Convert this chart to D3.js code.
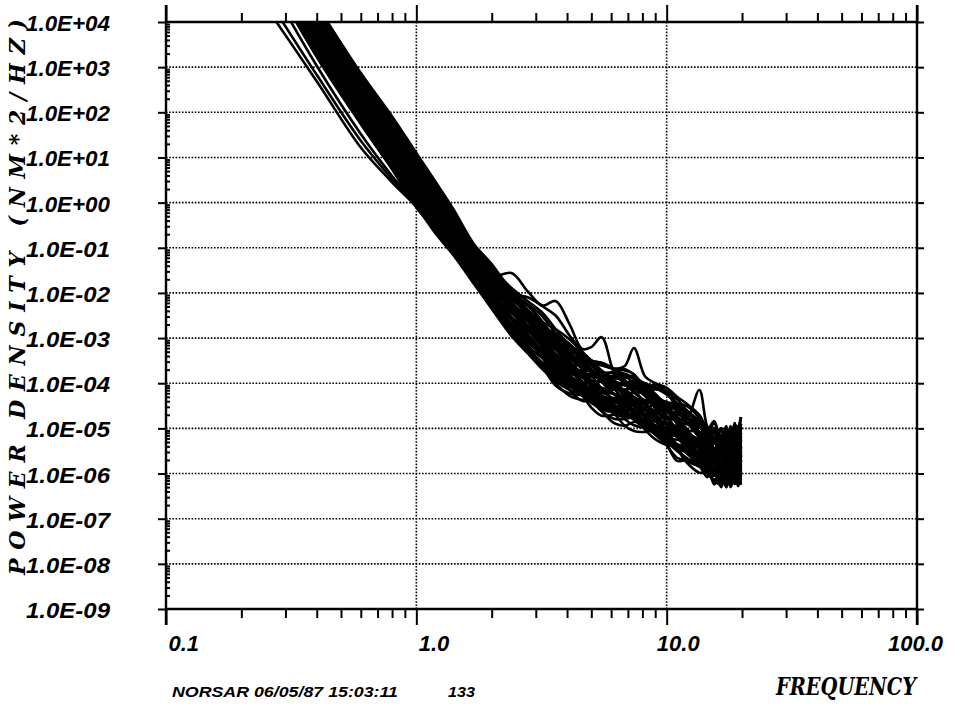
<!DOCTYPE html>
<html><head><meta charset="utf-8">
<script src="https://cdn.jsdelivr.net/npm/d3@7"></script>
<style>body{margin:0;background:#fff}svg{display:block}</style>
</head><body>
<script>
// ---------------- DATA ----------------
// frequency grid (Hz) shared by all traces
const freq = [0.25,0.4,0.6,0.8,1.0,1.2,1.4,1.7,2.0,2.4,2.8,3.2,3.6,4.1,4.6,5.0,5.5,6.2,6.8,7.4,8.2,9.0,10,11,12,13.5,14.5,15.5,16.5,17.3,18,18.7,19.3,19.8];
// each trace: log10 of power density (NM^2/HZ) at the frequencies above
const trace01 = [5.20,3.23,1.74,0.74,-0.10,-0.62,-1.10,-1.75,-2.30,-2.89,-3.29,-3.65,-3.90,-4.08,-4.22,-4.39,-4.62,-4.79,-4.79,-4.76,-4.93,-5.14,-5.37,-5.72,-5.70,-5.73,-5.98,-6.14,-5.94,-6.30,-5.90,-6.23,-5.85,-6.10];
const trace02 = [5.25,3.29,1.80,0.80,-0.04,-0.57,-1.05,-1.71,-2.25,-2.74,-3.04,-3.30,-3.65,-4.03,-4.27,-4.34,-4.37,-4.39,-4.59,-4.81,-4.98,-4.99,-5.02,-5.20,-5.45,-5.78,-5.88,-5.69,-6.14,-5.80,-6.20,-5.73,-6.05,-5.60];
const trace03 = [5.29,3.34,1.85,0.86,0.02,-0.51,-1.00,-1.67,-2.21,-2.94,-3.29,-3.65,-4.00,-4.28,-4.37,-4.39,-4.47,-4.69,-4.94,-5.06,-5.08,-5.04,-5.17,-5.45,-5.75,-5.98,-5.98,-6.15,-6.25,-6.00,-6.30,-6.05,-6.28,-6.10];
const trace04 = [5.34,3.40,1.91,0.92,0.08,-0.46,-0.95,-1.63,-2.16,-2.59,-2.84,-3.20,-3.60,-3.78,-3.87,-4.09,-4.37,-4.44,-4.39,-4.41,-4.68,-4.94,-5.02,-5.05,-5.15,-5.48,-5.78,-5.59,-5.94,-5.70,-6.00,-5.53,-5.85,-5.50];
const trace05 = [5.38,3.46,1.97,0.97,0.14,-0.41,-0.91,-1.58,-2.11,-2.79,-3.04,-3.40,-3.80,-3.98,-4.07,-4.29,-4.57,-4.64,-4.59,-4.61,-4.88,-5.04,-5.27,-5.40,-5.45,-5.63,-5.88,-6.04,-5.84,-6.20,-5.80,-6.13,-5.75,-6.00];
const trace06 = [5.43,3.52,2.02,1.03,0.20,-0.36,-0.86,-1.54,-2.07,-2.44,-2.84,-3.20,-3.45,-3.63,-3.77,-3.94,-4.17,-4.34,-4.34,-4.31,-4.48,-4.69,-4.92,-5.05,-5.10,-5.28,-5.53,-5.69,-5.49,-5.85,-5.45,-5.78,-5.40,-5.65];
const trace07 = [5.47,3.57,2.08,1.09,0.26,-0.30,-0.81,-1.50,-2.02,-2.69,-2.94,-3.30,-3.70,-3.88,-3.97,-4.19,-4.47,-4.54,-4.49,-4.51,-4.78,-5.04,-5.12,-5.15,-5.25,-5.58,-5.88,-5.69,-6.04,-5.80,-6.10,-5.63,-5.95,-5.60];
const trace08 = [5.52,3.63,2.14,1.15,0.32,-0.25,-0.76,-1.46,-1.97,-2.29,-2.64,-3.00,-3.35,-3.63,-3.72,-3.74,-3.82,-4.04,-4.29,-4.41,-4.43,-4.39,-4.52,-4.80,-5.10,-5.33,-5.33,-5.69,-5.39,-5.80,-5.45,-5.68,-5.35,-5.50];
const trace09 = [5.56,3.69,2.19,1.21,0.38,-0.20,-0.71,-1.42,-1.92,-2.54,-2.94,-3.30,-3.55,-3.73,-3.87,-4.04,-4.27,-4.44,-4.44,-4.41,-4.58,-4.79,-5.02,-5.15,-5.20,-5.38,-5.63,-5.79,-5.59,-5.95,-5.55,-5.88,-5.50,-5.75];
const trace10 = [5.61,3.74,2.25,1.27,0.44,-0.14,-0.66,-1.38,-1.88,-2.14,-2.44,-2.70,-3.05,-3.43,-3.67,-3.74,-3.77,-3.79,-3.99,-4.21,-4.38,-4.39,-4.42,-4.60,-4.85,-5.18,-5.28,-5.09,-5.54,-5.20,-5.60,-5.13,-5.45,-5.00];
const trace11 = [5.65,3.80,2.31,1.33,0.50,-0.09,-0.62,-1.34,-1.83,-2.39,-2.74,-3.10,-3.45,-3.73,-3.82,-3.84,-3.92,-4.14,-4.39,-4.51,-4.53,-4.49,-4.62,-4.90,-5.20,-5.43,-5.43,-5.79,-5.49,-5.90,-5.55,-5.78,-5.45,-5.60];
const trace12 = [5.70,3.86,2.36,1.38,0.56,-0.04,-0.57,-1.29,-1.78,-2.04,-2.29,-2.65,-3.05,-3.23,-3.32,-3.54,-3.82,-3.89,-3.84,-3.86,-4.13,-4.39,-4.47,-4.50,-4.60,-4.93,-5.23,-5.04,-5.39,-5.15,-5.45,-4.98,-5.30,-4.95];
const trace13 = [5.74,3.91,2.42,1.44,0.62,0.02,-0.52,-1.25,-1.74,-2.40,-2.85,-3.15,-3.50,-3.88,-4.12,-4.19,-4.22,-4.24,-4.44,-4.66,-4.83,-4.84,-4.87,-5.05,-5.30,-5.63,-5.73,-5.54,-5.99,-5.65,-6.05,-5.58,-5.90,-5.45];
const trace14 = [5.79,3.97,2.47,1.50,0.68,0.07,-0.47,-1.21,-1.69,-2.24,-2.64,-3.00,-3.25,-3.43,-3.57,-3.74,-3.97,-4.14,-4.14,-4.11,-4.28,-4.49,-4.72,-4.85,-4.90,-5.08,-5.33,-5.49,-5.29,-5.65,-5.25,-5.58,-5.20,-5.45];
const trace15 = [5.83,4.03,2.53,1.56,0.74,0.12,-0.42,-1.17,-1.64,-1.94,-2.29,-2.65,-3.00,-3.28,-3.37,-3.50,-3.55,-3.69,-3.94,-4.06,-4.08,-4.04,-4.17,-4.45,-4.75,-4.98,-4.98,-5.34,-5.04,-5.45,-5.10,-5.33,-5.00,-5.15];
const trace16 = [5.88,4.09,2.59,1.62,0.80,0.18,-0.37,-1.13,-1.60,-2.34,-2.64,-2.90,-3.25,-3.63,-3.87,-3.94,-3.97,-3.99,-4.19,-4.41,-4.58,-4.59,-4.62,-4.80,-5.05,-5.38,-5.48,-5.29,-5.74,-5.40,-5.80,-5.33,-5.65,-5.20];
const trace17 = [5.92,4.14,2.64,1.68,0.86,0.23,-0.32,-1.09,-1.55,-2.09,-2.49,-2.85,-3.10,-3.28,-3.42,-3.59,-3.82,-3.99,-3.99,-3.96,-4.13,-4.34,-4.57,-4.70,-4.75,-4.93,-5.18,-5.34,-5.14,-5.50,-5.10,-5.43,-5.05,-5.30];
const trace18 = [5.97,4.20,2.70,1.73,0.92,0.28,-0.28,-1.04,-1.50,-2.25,-2.65,-3.10,-3.50,-3.68,-3.77,-3.99,-4.27,-4.34,-4.29,-4.31,-4.58,-4.84,-4.92,-4.95,-5.05,-5.38,-5.68,-5.49,-5.84,-5.60,-5.90,-5.43,-5.75,-5.40];
const trace19 = [6.01,4.26,2.76,1.79,0.98,0.33,-0.23,-1.00,-1.46,-1.89,-2.19,-2.45,-2.80,-3.18,-3.42,-3.55,-3.60,-3.68,-3.72,-3.80,-4.13,-4.14,-4.17,-4.35,-4.60,-4.93,-5.03,-4.84,-5.29,-4.95,-5.35,-4.88,-5.20,-4.75];
const trace20 = [6.06,4.31,2.81,1.85,1.04,0.39,-0.18,-0.96,-1.41,-2.00,-2.44,-2.80,-3.20,-3.38,-3.47,-3.69,-3.97,-4.04,-3.99,-4.01,-4.28,-4.54,-4.62,-4.65,-4.75,-5.08,-5.38,-5.19,-5.54,-5.30,-5.60,-5.13,-5.45,-5.10];
const trace21 = [6.10,4.37,2.87,1.91,1.10,0.44,-0.13,-0.92,-1.36,-1.99,-2.39,-2.75,-3.00,-3.18,-3.32,-3.49,-3.72,-3.89,-3.89,-3.86,-4.03,-4.24,-4.47,-4.60,-4.65,-4.83,-5.08,-5.24,-5.04,-5.40,-5.00,-5.33,-4.95,-5.20];
const trace22 = [6.08,4.35,2.85,1.88,1.07,0.41,-0.16,-1.00,-1.62,-1.56,-1.98,-2.28,-2.18,-2.70,-3.24,-3.20,-2.98,-3.80,-4.00,-4.10,-4.20,-4.35,-4.50,-4.75,-4.85,-5.20,-5.40,-5.30,-5.60,-5.30,-5.70,-5.40,-5.65,-5.40];
const trace23 = [5.90,4.12,2.62,1.66,0.84,0.21,-0.34,-1.10,-1.58,-2.05,-2.45,-2.80,-3.10,-3.35,-3.50,-3.55,-3.60,-3.68,-3.62,-3.22,-3.85,-4.00,-4.10,-4.30,-4.45,-4.70,-5.00,-5.10,-5.30,-5.05,-5.40,-5.10,-5.30,-4.90];
const trace24 = [5.78,3.96,2.46,1.49,0.67,0.06,-0.48,-1.22,-1.70,-2.20,-2.60,-2.95,-3.20,-3.45,-3.65,-3.75,-3.85,-3.95,-4.05,-4.10,-4.20,-4.30,-4.45,-4.60,-4.80,-4.15,-4.95,-5.20,-5.40,-5.10,-5.50,-5.20,-5.00,-4.75];
const trace25 = [6.00,4.25,2.75,1.78,0.97,0.32,-0.24,-1.02,-1.50,-2.00,-2.10,-2.30,-2.50,-2.95,-3.30,-3.50,-3.55,-3.70,-3.80,-3.90,-4.00,-4.10,-4.25,-4.45,-4.60,-4.90,-5.10,-5.20,-5.00,-5.35,-5.05,-5.30,-4.95,-5.20];
const trace26 = [4.35,2.69,1.22,0.45,-0.10,-0.70,-1.15,-1.80,-2.35,-2.95,-3.35,-3.70,-3.95,-4.15,-4.25,-4.35,-4.50,-4.60,-4.70,-4.80,-4.95,-5.10,-5.30,-5.50,-5.65,-5.85,-5.95,-6.05,-5.85,-6.15,-5.90,-6.20,-5.95,-6.15];
const trace27 = [4.59,2.83,1.37,0.52,-0.08,-0.66,-1.13,-1.78,-2.33,-2.90,-3.30,-3.60,-3.85,-4.05,-4.20,-4.30,-4.45,-4.55,-4.65,-4.75,-4.90,-5.00,-5.20,-5.40,-5.55,-5.80,-5.90,-6.00,-6.10,-5.85,-6.20,-5.95,-6.20,-5.90];
const trace28 = [5.00,3.03,1.52,0.59,-0.05,-0.60,-1.08,-1.74,-2.30,-2.85,-3.25,-3.55,-3.80,-4.00,-4.15,-4.30,-4.40,-4.50,-4.62,-4.72,-4.85,-4.95,-5.15,-5.35,-5.50,-5.75,-5.85,-5.95,-5.70,-6.05,-5.80,-6.10,-5.75,-6.00];
const trace29 = [5.22,3.26,1.77,0.77,-0.07,-0.59,-1.08,-1.73,-2.28,-2.84,-3.11,-3.38,-3.75,-4.16,-4.39,-4.39,-4.40,-4.56,-4.79,-4.93,-4.98,-4.94,-5.07,-5.40,-5.70,-5.83,-5.81,-6.19,-5.84,-6.15,-5.80,-6.23,-5.85,-6.15];
const trace30 = [5.40,3.49,2.00,1.00,0.17,-0.38,-0.88,-1.56,-2.09,-2.77,-3.20,-3.43,-3.63,-3.89,-4.20,-4.44,-4.55,-4.52,-4.52,-4.69,-4.96,-5.12,-5.15,-5.18,-5.38,-5.81,-6.06,-5.67,-6.12,-5.78,-6.08,-5.66,-6.18,-5.78];
const trace31 = [5.31,3.37,1.88,0.89,0.05,-0.49,-0.98,-1.65,-2.18,-2.69,-3.12,-3.35,-3.55,-3.81,-4.12,-4.36,-4.47,-4.44,-4.44,-4.61,-4.88,-5.04,-5.07,-5.10,-5.30,-5.73,-5.98,-5.59,-6.04,-5.70,-6.00,-5.58,-6.10,-5.70];
const trace32 = [5.58,3.71,2.22,1.24,0.41,-0.17,-0.69,-1.40,-1.90,-2.59,-3.02,-3.25,-3.45,-3.71,-4.02,-4.26,-4.37,-4.34,-4.34,-4.51,-4.78,-4.94,-4.97,-5.00,-5.20,-5.63,-5.88,-5.49,-5.94,-5.60,-5.90,-5.48,-6.00,-5.60];
const trace33 = [5.49,3.60,2.11,1.12,0.29,-0.28,-0.78,-1.48,-1.99,-2.54,-2.81,-3.08,-3.45,-3.86,-4.09,-4.09,-4.10,-4.26,-4.49,-4.63,-4.68,-4.64,-4.77,-5.10,-5.40,-5.53,-5.51,-5.89,-5.54,-5.85,-5.50,-5.93,-5.55,-5.85];
const trace34 = [5.76,3.94,2.45,1.47,0.65,0.04,-0.49,-1.23,-1.71,-2.39,-2.82,-3.05,-3.25,-3.51,-3.82,-4.06,-4.17,-4.14,-4.14,-4.31,-4.58,-4.74,-4.77,-4.80,-5.00,-5.43,-5.68,-5.29,-5.74,-5.40,-5.70,-5.28,-5.80,-5.40];
const trace35 = [5.67,3.83,2.33,1.35,0.53,-0.06,-0.59,-1.31,-1.81,-2.31,-2.58,-2.85,-3.22,-3.63,-3.86,-3.86,-3.87,-4.03,-4.26,-4.40,-4.45,-4.41,-4.54,-4.87,-5.17,-5.30,-5.28,-5.66,-5.31,-5.62,-5.27,-5.70,-5.32,-5.62];
const trace36 = [5.94,4.17,2.67,1.71,0.89,0.25,-0.30,-1.07,-1.52,-2.24,-2.51,-2.78,-3.15,-3.56,-3.79,-3.79,-3.80,-3.96,-4.19,-4.33,-4.38,-4.34,-4.47,-4.80,-5.10,-5.23,-5.21,-5.59,-5.24,-5.55,-5.20,-5.63,-5.25,-5.55];
const trace37 = [5.85,4.06,2.56,1.59,0.77,0.15,-0.40,-1.15,-1.62,-2.09,-2.52,-2.75,-2.95,-3.21,-3.52,-3.76,-3.87,-3.84,-3.84,-4.01,-4.28,-4.44,-4.47,-4.50,-4.70,-5.13,-5.38,-4.99,-5.44,-5.10,-5.40,-4.98,-5.50,-5.10];
const trace38 = [6.03,4.28,2.79,1.82,1.01,0.36,-0.20,-0.98,-1.43,-1.99,-2.26,-2.53,-2.90,-3.31,-3.54,-3.54,-3.55,-3.71,-3.94,-4.08,-4.13,-4.09,-4.22,-4.55,-4.85,-4.98,-4.96,-5.34,-4.99,-5.30,-4.95,-5.38,-5.00,-5.30];
const trace39 = [5.27,3.32,1.82,0.83,-0.01,-0.54,-1.03,-1.69,-2.23,-2.89,-3.34,-3.60,-3.75,-3.98,-4.27,-4.54,-4.72,-4.69,-4.64,-4.76,-5.03,-5.24,-5.37,-5.40,-5.45,-5.73,-6.08,-5.84,-6.30,-6.00,-6.25,-5.83,-6.25,-5.85];
const trace40 = [5.36,3.43,1.94,0.94,0.11,-0.43,-0.93,-1.60,-2.14,-2.74,-3.04,-3.45,-3.85,-4.03,-4.07,-4.14,-4.42,-4.69,-4.74,-4.66,-4.68,-4.84,-5.17,-5.45,-5.50,-5.53,-5.63,-6.04,-5.79,-6.20,-5.80,-6.03,-5.70,-6.05];
const trace41 = [5.45,3.54,2.05,1.06,0.23,-0.33,-0.83,-1.52,-2.04,-2.59,-3.04,-3.30,-3.45,-3.68,-3.97,-4.24,-4.42,-4.39,-4.34,-4.46,-4.73,-4.94,-5.07,-5.10,-5.15,-5.43,-5.78,-5.54,-6.04,-5.70,-5.95,-5.53,-5.95,-5.55];
const trace42 = [5.54,3.66,2.16,1.18,0.35,-0.22,-0.74,-1.44,-1.95,-2.44,-2.74,-3.15,-3.55,-3.73,-3.77,-3.84,-4.12,-4.39,-4.44,-4.36,-4.38,-4.54,-4.87,-5.15,-5.20,-5.23,-5.33,-5.74,-5.49,-5.90,-5.50,-5.73,-5.40,-5.75];
const trace43 = [5.63,3.77,2.28,1.30,0.47,-0.12,-0.64,-1.36,-1.85,-2.29,-2.74,-3.00,-3.15,-3.38,-3.67,-3.94,-4.12,-4.09,-4.04,-4.16,-4.43,-4.64,-4.77,-4.80,-4.85,-5.13,-5.48,-5.24,-5.74,-5.40,-5.65,-5.23,-5.65,-5.25];
const trace44 = [5.72,3.89,2.39,1.41,0.59,-0.01,-0.54,-1.27,-1.76,-2.14,-2.44,-2.85,-3.25,-3.43,-3.47,-3.54,-3.82,-4.09,-4.14,-4.06,-4.08,-4.24,-4.57,-4.85,-4.90,-4.93,-5.03,-5.44,-5.19,-5.60,-5.20,-5.43,-5.10,-5.45];
const trace45 = [5.81,4.00,2.50,1.53,0.71,0.10,-0.45,-1.19,-1.67,-2.04,-2.49,-2.75,-2.90,-3.13,-3.42,-3.69,-3.87,-3.84,-3.79,-3.91,-4.18,-4.39,-4.52,-4.55,-4.60,-4.88,-5.23,-4.99,-5.49,-5.15,-5.40,-4.98,-5.40,-5.00];
const trace46 = [5.21,3.24,1.75,0.75,-0.09,-0.61,-1.09,-1.74,-2.29,-2.94,-3.24,-3.65,-4.05,-4.23,-4.27,-4.34,-4.62,-4.89,-4.94,-4.86,-4.88,-5.04,-5.37,-5.65,-5.70,-5.73,-5.83,-6.24,-5.99,-6.30,-6.00,-6.23,-5.90,-6.25];
const trace47 = [5.33,3.38,1.89,0.90,0.06,-0.48,-0.97,-1.64,-2.17,-2.74,-3.19,-3.45,-3.60,-3.83,-4.12,-4.39,-4.57,-4.54,-4.49,-4.61,-4.88,-5.09,-5.22,-5.25,-5.30,-5.58,-5.93,-5.69,-6.19,-5.85,-6.10,-5.68,-6.10,-5.70];
const trace48 = [5.90,4.11,2.62,1.65,0.83,0.20,-0.35,-1.11,-1.57,-2.29,-2.59,-3.00,-3.40,-3.58,-3.62,-3.69,-3.97,-4.24,-4.29,-4.21,-4.23,-4.39,-4.72,-5.00,-5.05,-5.08,-5.18,-5.59,-5.34,-5.75,-5.35,-5.58,-5.25,-5.60];
const trace49 = [6.08,4.34,2.84,1.88,1.07,0.41,-0.15,-0.94,-1.38,-1.94,-2.39,-2.65,-2.80,-3.03,-3.32,-3.59,-3.77,-3.74,-3.69,-3.81,-4.08,-4.29,-4.42,-4.45,-4.50,-4.78,-5.13,-4.89,-5.39,-5.05,-5.30,-4.88,-5.30,-4.90];
const trace50 = [5.99,4.23,2.73,1.76,0.95,0.31,-0.26,-1.02,-1.48,-2.20,-2.94,-3.35,-3.75,-3.93,-3.97,-4.04,-4.32,-4.59,-4.64,-4.56,-4.58,-4.74,-5.07,-5.35,-5.40,-5.43,-5.53,-5.94,-5.69,-6.10,-5.70,-5.93,-5.60,-5.95];

const traces = [trace01,trace02,trace03,trace04,trace05,trace06,trace07,trace08,trace09,trace10,
  trace11,trace12,trace13,trace14,trace15,trace16,trace17,trace18,trace19,trace20,
  trace21,trace22,trace23,trace24,trace25,trace26,trace27,trace28,trace29,trace30,
  trace31,trace32,trace33,trace34,trace35,trace36,trace37,trace38,trace39,trace40,
  trace41,trace42,trace43,trace44,trace45,trace46,trace47,trace48,trace49,trace50];

const yTickValues = [1e4,1e3,1e2,1e1,1e0,1e-1,1e-2,1e-3,1e-4,1e-5,1e-6,1e-7,1e-8,1e-9];
const yTickLabels = ["1.0E+04","1.0E+03","1.0E+02","1.0E+01","1.0E+00","1.0E-01","1.0E-02","1.0E-03","1.0E-04","1.0E-05","1.0E-06","1.0E-07","1.0E-08","1.0E-09"];
const xTickValues = [0.1,1,10,100];
const xTickLabels = ["0.1","1.0","10.0","100.0"];
const xTitle = "FREQUENCY";
const yTitle = "POWER  DENSITY  (NM*2/HZ)";
const footer = "NORSAR 06/05/87 15:03:11";
const footerId = "133";

// ---------------- CHART ----------------
const W = 958, H = 705;
const svg = d3.select("body").append("svg").attr("width", W).attr("height", H);
svg.append("rect").attr("width", W).attr("height", H).attr("fill", "#fff");

const L = 166, R = 917, T = 22, B = 609;
const x = d3.scaleLog().domain([0.1, 100]).range([L, R]);
const y = d3.scaleLog().domain([1e-9, 1e4]).range([B, T]);

const xMinor = [];
[0.1, 1, 10].forEach(d => { for (let k = 2; k <= 9; k++) xMinor.push(d * k); });
const yMinor = [];
yTickValues.slice(1).forEach(d => { for (let k = 2; k <= 9; k++) yMinor.push(d * k); });

const dotted = "1.6,1.6";
svg.append("g").selectAll("line").data(yTickValues.slice(1, -1)).join("line")
  .attr("x1", L).attr("x2", R).attr("y1", d => y(d)).attr("y2", d => y(d))
  .attr("stroke", "#000").attr("stroke-width", 1.6).attr("stroke-dasharray", dotted);
svg.append("g").selectAll("line").data([1, 10]).join("line")
  .attr("x1", d => x(d)).attr("x2", d => x(d)).attr("y1", T).attr("y2", B)
  .attr("stroke", "#000").attr("stroke-width", 1.6).attr("stroke-dasharray", dotted);

svg.append("clipPath").attr("id", "clip").append("rect")
  .attr("x", L).attr("y", T).attr("width", R - L).attr("height", B - T);
const line = d3.line()
  .x((d, i) => x(freq[i]))
  .y(d => y(Math.pow(10, d)))
  .curve(d3.curveCatmullRom.alpha(0.5));
svg.append("g").attr("clip-path", "url(#clip)").selectAll("path").data(traces).join("path")
  .attr("d", line).attr("fill", "none").attr("stroke", "#000")
  .attr("stroke-width", 2.6).attr("stroke-linejoin", "round");

function styleAxis(g) {
  g.select(".domain").remove();
  g.selectAll("text").remove();
  g.selectAll(".tick line").attr("stroke", "#000").attr("stroke-width", 2);
}
svg.append("g").attr("transform", `translate(0,${T})`)
  .call(d3.axisTop(x).tickValues(xMinor).tickSize(9).tickFormat("")).call(styleAxis);
svg.append("g").attr("transform", `translate(0,${B})`)
  .call(d3.axisBottom(x).tickValues(xMinor).tickSize(9).tickFormat("")).call(styleAxis);
svg.append("g").attr("transform", `translate(0,${T})`)
  .call(d3.axisTop(x).tickValues(xTickValues).tickSize(17).tickFormat("")).call(styleAxis);
svg.append("g").attr("transform", `translate(0,${B})`)
  .call(d3.axisBottom(x).tickValues(xTickValues).tickSize(16).tickFormat("")).call(styleAxis);
svg.append("g").attr("transform", `translate(${L},0)`)
  .call(d3.axisLeft(y).tickValues(yTickValues).tickSize(8).tickFormat("")).call(styleAxis);
svg.append("g").attr("transform", `translate(${L},0)`)
  .call(d3.axisRight(y).tickValues(yMinor).tickSize(4).tickFormat("")).call(styleAxis);
svg.append("g").attr("transform", `translate(${R},0)`)
  .call(d3.axisRight(y).tickValues(yTickValues).tickSize(7).tickFormat("")).call(styleAxis);

const frame = svg.append("g").attr("stroke", "#000").attr("stroke-width", 2.4);
frame.append("line").attr("x1", L).attr("x2", R).attr("y1", T).attr("y2", T);
frame.append("line").attr("x1", L).attr("x2", R).attr("y1", B).attr("y2", B);
frame.append("line").attr("x1", L).attr("x2", L).attr("y1", 5).attr("y2", 625);
frame.append("line").attr("x1", R).attr("x2", R).attr("y1", 5).attr("y2", 625);

const sansBI = "'Liberation Sans', Arial, sans-serif";
const serifBI = "'DejaVu Serif', 'Liberation Serif', serif";
svg.append("g").selectAll("text").data(yTickValues).join("text")
  .attr("x", 26).attr("y", d => y(d) + 9)
  .attr("font-family", sansBI).attr("font-weight", "bold").attr("font-style", "italic")
  .attr("font-size", 22).attr("textLength", 84).attr("lengthAdjust", "spacingAndGlyphs")
  .attr("fill", "#000")
  .text((d, i) => yTickLabels[i]);
svg.append("g").selectAll("text").data(xTickValues).join("text")
  .attr("x", d => Math.min(x(d) + 33, W - 15)).attr("y", 651).attr("text-anchor", "end")
  .attr("font-family", sansBI).attr("font-weight", "bold").attr("font-style", "italic")
  .attr("font-size", 22).attr("fill", "#000")
  .text((d, i) => xTickLabels[i]);

svg.append("text").attr("x", 916).attr("y", 695).attr("text-anchor", "end")
  .attr("font-family", serifBI).attr("font-weight", "bold").attr("font-style", "italic")
  .attr("font-size", 24).attr("textLength", 140).attr("lengthAdjust", "spacingAndGlyphs")
  .attr("fill", "#000").text(xTitle);
svg.append("text").attr("transform", "translate(25,297) rotate(-90)").attr("text-anchor", "middle")
  .attr("font-family", serifBI).attr("font-weight", "bold").attr("font-style", "italic")
  .attr("font-size", 22).attr("textLength", 556).attr("lengthAdjust", "spacing")
  .attr("fill", "#000").text(yTitle);
svg.append("text").attr("x", 172).attr("y", 697)
  .attr("font-family", sansBI).attr("font-weight", "bold").attr("font-style", "italic")
  .attr("font-size", 15).attr("textLength", 226).attr("lengthAdjust", "spacingAndGlyphs")
  .attr("fill", "#000").text(footer);
svg.append("text").attr("x", 448).attr("y", 697)
  .attr("font-family", sansBI).attr("font-weight", "bold").attr("font-style", "italic")
  .attr("font-size", 15).attr("textLength", 27).attr("lengthAdjust", "spacingAndGlyphs")
  .attr("fill", "#000").text(footerId);
</script>
</body></html>
